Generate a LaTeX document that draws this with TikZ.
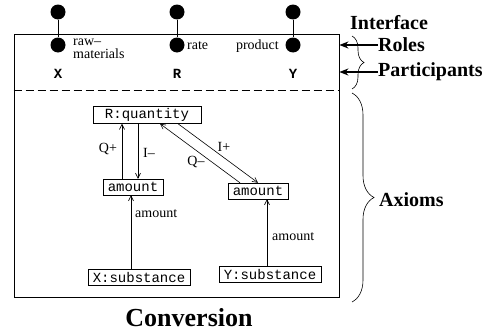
\documentclass[tikz,border=0pt]{standalone}
\usepackage{fontspec}
\setmainfont{Liberation Serif}
\setmonofont{Liberation Mono}
\usetikzlibrary{arrows.meta}
\usetikzlibrary{decorations.pathreplacing}

\begin{document}
\begin{tikzpicture}[x=1pt,y=-1pt,
    box/.style={draw,font=\fontsize{14}{14}\ttfamily,inner xsep=5pt,inner ysep=2pt,minimum height=16pt},
    lab/.style={font=\fontsize{14}{13.5}\selectfont,inner sep=0pt},
    big/.style={font=\fontsize{20}{20}\selectfont\bfseries,inner sep=0pt},
    part/.style={font=\fontsize{14}{14}\ttfamily\bfseries,inner sep=0pt},
    arr/.style={-{Straight Barb[length=5pt,width=5pt]},line width=0.6pt},
    fat/.style={-{Stealth[length=9pt,width=7pt]},line width=2pt},
    role/.style={circle,fill,inner sep=0pt,minimum size=15pt},
    brc/.style={decorate,decoration={brace,amplitude=#1},line width=0.6pt}]
  \useasboundingbox (0,0) rectangle (493,332);

  % the frame
  \node[draw,line width=0.8pt,minimum width=325pt,minimum height=263pt] (frame) at (176.5,165.5) {};
  \draw[dash pattern=on 8pt off 4pt,line width=0.8pt] (frame.west |- 0,90) -- (frame.east |- 0,90);

  % interface roles
  \foreach \n/\x in {x/58,r/177,y/293}{
    \node[role] (top\n) at (\x,12) {};
    \node[role] (in\n) at (\x,45) {};
    \draw[line width=0.8pt] (top\n) -- (in\n);
  }
  \node[lab,align=left,anchor=west] (rawlab) at (73,49) {raw--\\materials};
  \node[lab,anchor=west] (ratelab) at (187,46) {rate};
  \node[lab,anchor=east] (prodlab) at (279,46) {product};

  % participants
  \node[part] (px) at (58,74) {X};
  \node[part] (pr) at (177,74) {R};
  \node[part] (py) at (293,74) {Y};

  % axioms
  \node[box,minimum width=108pt] (rq) at (147,115) {R:quantity};
  \node[box] (al) at (133,187) {amount};
  \node[box] (ar) at (258,191) {amount};
  \node[box] (xs) at (139,277) {X:substance};
  \node[box] (ys) at (270,274) {Y:substance};

  \draw[arr] ([xshift=-11pt]al.north) -- ([xshift=-25pt]rq.south);
  \draw[arr] ([xshift=-9pt]rq.south) -- ([xshift=5pt]al.north);
  \draw[arr] ([xshift=31pt]rq.south) -- (ar.north);
  \draw[arr] ([xshift=-18pt]ar.north) -- ([xshift=13pt]rq.south);
  \draw[arr] ([xshift=-8pt]xs.north) -- ([xshift=-2pt]al.south);
  \draw[arr] ([xshift=-3pt]ys.north) -- ([xshift=9pt]ar.south);

  \node[lab] (qplus) at (108,149) {Q+};
  \node[lab] (iminus) at (149,153) {I--};
  \node[lab] (iplus) at (224,147) {I+};
  \node[lab] (qminus) at (196,162) {Q--};
  \node[lab,anchor=west] (amtl) at (135,214) {amount};
  \node[lab,anchor=west] (amtr) at (272,237) {amount};

  % right hand side
  \node[big,anchor=west] (iface) at (350,23) {Interface};
  \node[big,anchor=west] (roles) at (378,45) {Roles};
  \node[big,anchor=west] (parts) at (378,72) {Participants};
  \node[big,anchor=west] (axioms) at (379,200) {Axioms};
  \draw[fat] (roles.west) -- (frame.east |- roles.west);
  \draw[fat] (parts.west) -- (frame.east |- parts.west);
  \draw[brc=12pt] (352,36) -- (352,89);
  \draw[brc=22pt] (352,93) -- (352,302);

  \node[font=\fontsize{26}{26}\selectfont\bfseries,inner sep=0pt] (title) at (189,318) {Conversion};
\end{tikzpicture}
\end{document}
